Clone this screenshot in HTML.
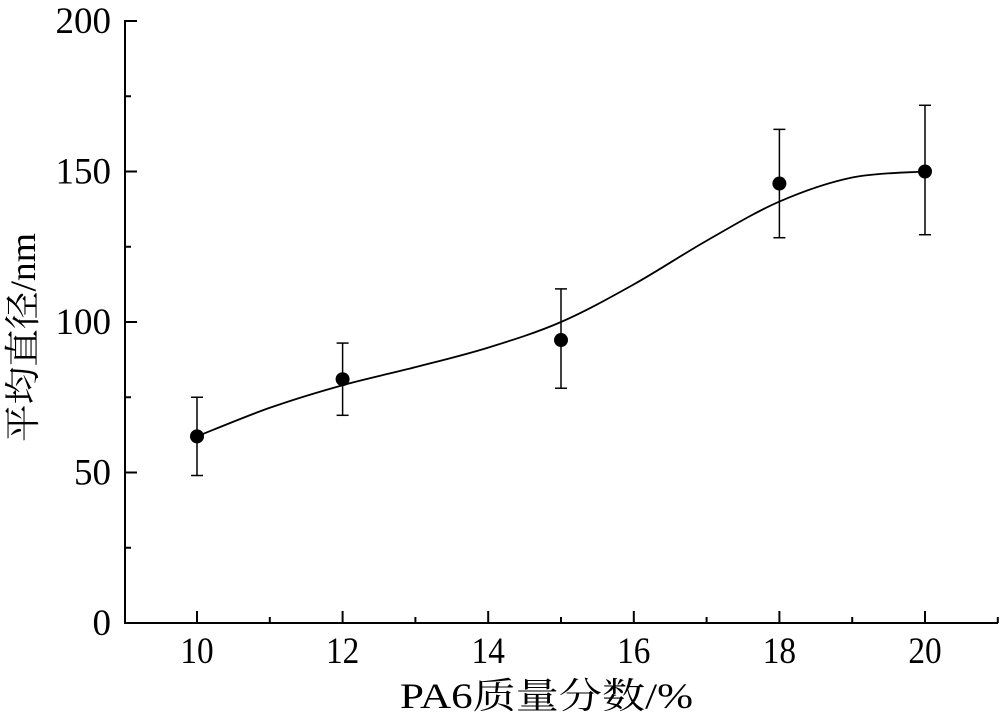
<!DOCTYPE html>
<html><head><meta charset="utf-8"><style>body{margin:0;background:#fff}svg{display:block}text{font-family:"Liberation Serif","Noto Serif CJK SC",serif;fill:#000}</style></head>
<body>
<svg width="1000" height="723" viewBox="0 0 1000 723">
<g stroke="#000" stroke-width="2" fill="none" id="ax">
<line x1="125" y1="20" x2="125" y2="624"/>
<line x1="124" y1="623" x2="998" y2="623"/>
</g>
<g id="ticks" stroke="#000" stroke-width="2"></g>
<g font-size="37" text-anchor="end" id="yl"></g>
<g font-size="37" text-anchor="middle" id="xl"></g>
<text x="400" y="708" font-size="36" textLength="293" lengthAdjust="spacingAndGlyphs">PA6质量分数/%</text>
<text transform="translate(35,442) rotate(-90)" font-size="36" textLength="209" lengthAdjust="spacingAndGlyphs">平均直径/nm</text>
<path id="curve" stroke="#000" stroke-width="1.8" fill="none"/>
<g id="pts"></g>
</svg>
<script>
const X=v=>197+(v-10)*72.8, Y=v=>623-v*3.01;
let t='',yl='',xl='';
for(let v=0;v<=200;v+=25){const y=Y(v);t+=`<line x1="125" y1="${y}" x2="${v%50?131:137}" y2="${y}"/>`;if(v%50==0)yl+=`<text x="111" y="${y+12}">${v}</text>`;}
for(let v=10;v<=21;v++){const x=X(v);t+=`<line x1="${x}" y1="623" x2="${x}" y2="${v%2?617:611}"/>`;if(v%2==0&&v<=20)xl+=`<text x="${x}" y="663" transform="translate(${x},0) scale(0.9,1) translate(${-x},0)">${v}</text>`;}
document.getElementById('ticks').innerHTML=t;document.getElementById('yl').innerHTML=yl;document.getElementById('xl').innerHTML=xl;
const c=[[10,62],[11,71.5],[12,79],[13,85],[14,91.5],[15,100],[16,112.5],[17,127],[18,140],[19,148],[20,150]].map(p=>[X(p[0]),Y(p[1])]);
let d=`M${c[0]}`;
for(let i=0;i<c.length-1;i++){const p0=c[Math.max(0,i-1)],p1=c[i],p2=c[i+1],p3=c[Math.min(c.length-1,i+2)];
d+=` C${p1[0]+(p2[0]-p0[0])/6},${p1[1]+(p2[1]-p0[1])/6} ${p2[0]-(p3[0]-p1[0])/6},${p2[1]-(p3[1]-p1[1])/6} ${p2[0]},${p2[1]}`;}
document.getElementById('curve').setAttribute('d',d);
const pts=[[10,62,75,49],[12,81,93,69],[15,94,111,78],[18,146,164,128],[20,150,172,129]];
let s='';for(const p of pts){const x=X(p[0]);s+=`<line x1="${x}" y1="${Y(p[2])}" x2="${x}" y2="${Y(p[3])}" stroke="#000" stroke-width="1.5"/><line x1="${x-6}" y1="${Y(p[2])}" x2="${x+6}" y2="${Y(p[2])}" stroke="#000" stroke-width="1.5"/><line x1="${x-6}" y1="${Y(p[3])}" x2="${x+6}" y2="${Y(p[3])}" stroke="#000" stroke-width="1.5"/><circle cx="${x}" cy="${Y(p[1])}" r="7" fill="#000"/>`;}
document.getElementById('pts').innerHTML=s;
</script>
</body></html>
